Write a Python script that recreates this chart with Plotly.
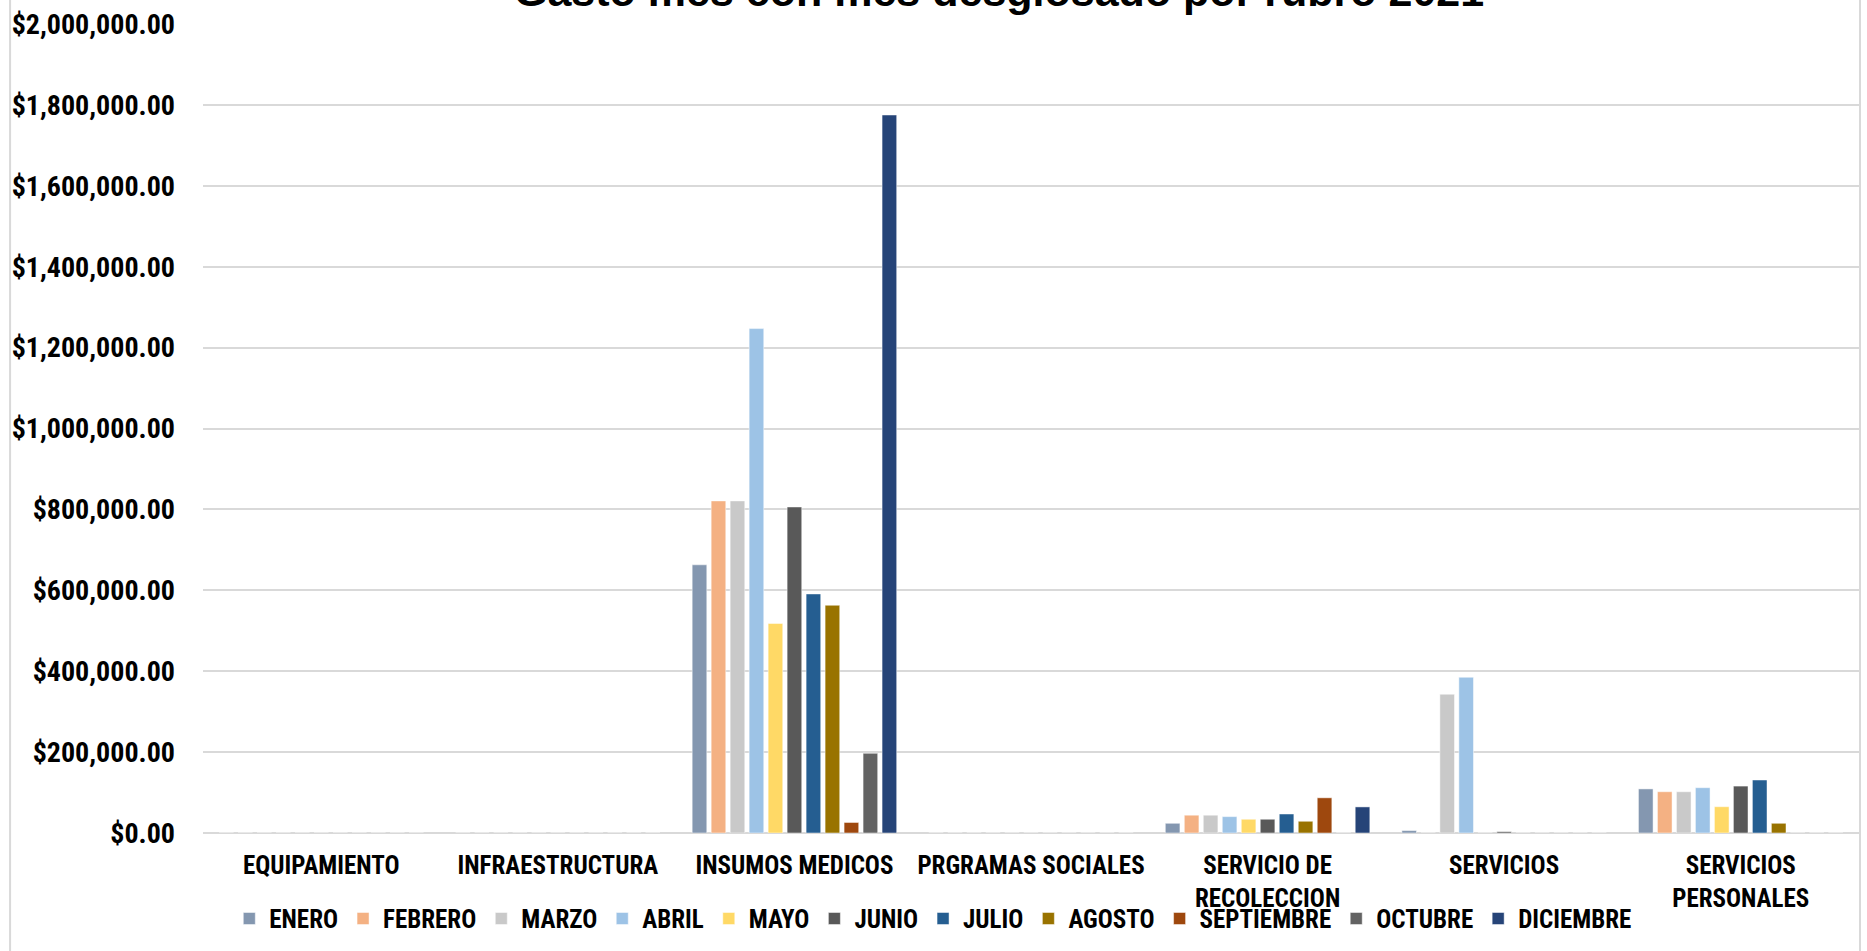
import plotly.graph_objects as go

categories = ["EQUIPAMIENTO", "INFRAESTRUCTURA", "INSUMOS MEDICOS", "PRGRAMAS SOCIALES",
              "SERVICIO DE<br>RECOLECCION", "SERVICIOS", "SERVICIOS<br>PERSONALES"]

months = ["ENERO", "FEBRERO", "MARZO", "ABRIL", "MAYO", "JUNIO", "JULIO",
          "AGOSTO", "SEPTIEMBRE", "OCTUBRE", "DICIEMBRE"]

colors = ["#8497B0", "#F4B183", "#C9C9C9", "#9DC3E6", "#FFD966", "#595959",
          "#255E91", "#997300", "#9E480E", "#636363", "#264478"]

enero      = [0, 0, 663000, 0, 24000, 6000, 109000]
febrero    = [0, 0, 821000, 0, 44000, 0, 102000]
marzo      = [0, 0, 821000, 0, 44000, 343000, 102000]
abril      = [0, 0, 1247000, 0, 40500, 385000, 112000]
mayo       = [0, 0, 518000, 0, 34000, 0, 65000]
junio      = [0, 0, 806000, 0, 34000, 3300, 116000]
julio      = [0, 0, 591000, 0, 47000, 0, 131000]
agosto     = [0, 0, 563000, 0, 29000, 0, 24000]
septiembre = [0, 0, 26000, 0, 87000, 0, 0]
octubre    = [0, 0, 197000, 0, 0, 0, 0]
diciembre  = [0, 0, 1775000, 0, 64500, 0, 0]

series = [enero, febrero, marzo, abril, mayo, junio, julio, agosto,
          septiembre, octubre, diciembre]

title_text = "Gasto mes con mes desglosado por rubro 2021"

FONT = "Roboto Condensed, Liberation Sans Narrow, Liberation Sans, sans-serif"

fig = go.Figure()
for name, vals, col in zip(months, series, colors):
    fig.add_trace(go.Bar(
        name=name, x=categories, y=vals,
        marker=dict(color=col, line=dict(color="rgba(255,255,255,0.6)", width=0.8)),
    ))

fig.update_layout(
    width=1867, height=951,
    margin=dict(l=203, r=8, t=21, b=118),
    paper_bgcolor="white", plot_bgcolor="white",
    barmode="group", bargap=0.117, bargroupgap=0.23,
    font=dict(family=FONT, size=25, color="black", weight="bold"),
    showlegend=True,
    legend=dict(orientation="h", x=0.441, xanchor="center", y=-0.106, yanchor="middle",
                bgcolor="rgba(0,0,0,0)",
                font=dict(family=FONT, size=25, color="black", weight="bold"),
                traceorder="normal", itemclick=False),
    xaxis=dict(showgrid=False, showline=False, ticks="",
               tickfont=dict(family=FONT, size=25, color="black", weight="bold"),
               ticklabelstandoff=15),
    yaxis=dict(range=[0, 2000000], dtick=200000, tickformat="$,.2f",
               showgrid=True, gridcolor="#D9D9D9", gridwidth=1.5,
               zeroline=True, zerolinecolor="#D9D9D9", zerolinewidth=1.5,
               showline=False, ticks="", ticklabelstandoff=27,
               tickfont=dict(family=FONT, size=28, color="black", weight="bold")),
    annotations=[dict(text=title_text, xref="paper", yref="paper",
                      x=0.4807, y=1.041, xanchor="center", yanchor="middle",
                      showarrow=False,
                      font=dict(family="Liberation Sans, Arial, sans-serif", size=43,
                                color="black", weight="bold"))],
    shapes=[
        dict(type="line", xref="paper", yref="paper", x0=-0.1165, x1=-0.1165, y0=-0.2, y1=1.1,
             line=dict(color="#D9D9D9", width=2)),
        dict(type="line", xref="paper", yref="paper", x0=1.0006, x1=1.0006, y0=-0.2, y1=1.1,
             line=dict(color="#D9D9D9", width=2)),
    ],
)

fig.write_html("out.html", config={"displayModeBar": False},
               post_script="document.body.style.margin='0';")
